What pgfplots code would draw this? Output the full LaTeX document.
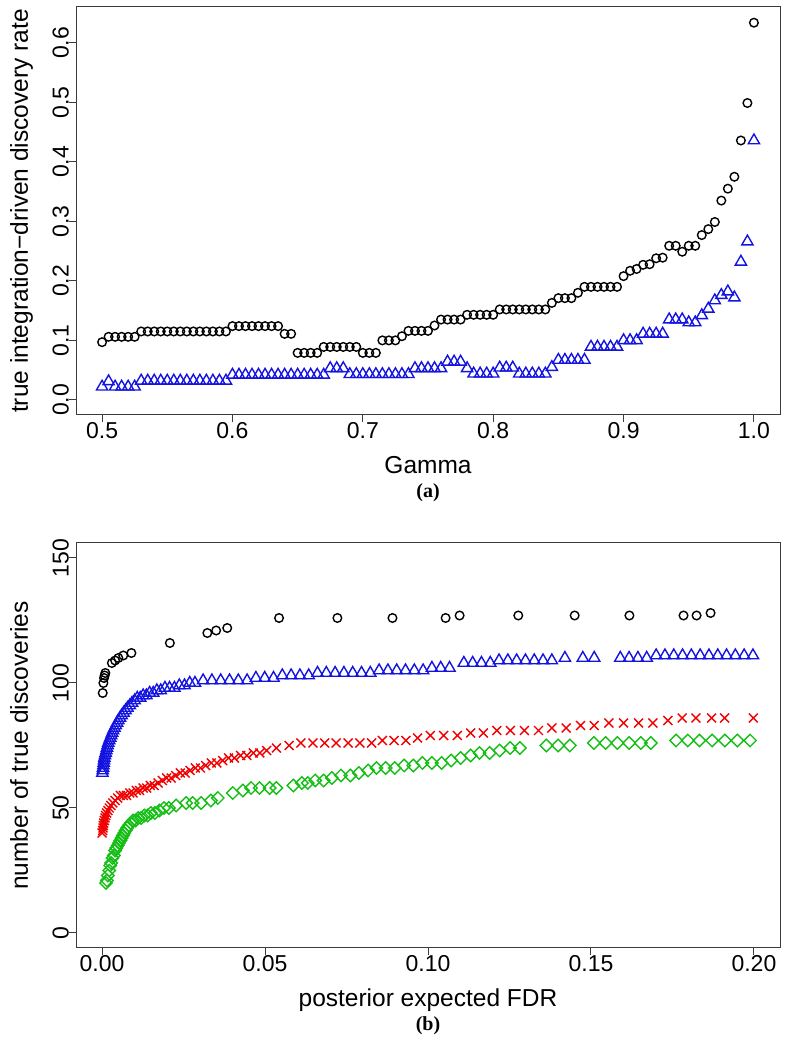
\documentclass[border=0pt]{standalone}
\usepackage{pgfplots}
\pgfplotsset{compat=1.18}
\usepackage{fontspec}
\setmainfont{Liberation Sans}
\newfontfamily\serifbf{Liberation Serif}
\definecolor{rblue}{RGB}{20,20,225}
\definecolor{rred}{RGB}{240,0,0}
\definecolor{rgreen}{RGB}{20,190,20}
\definecolor{boxgray}{RGB}{60,60,60}
\pgfplotsset{
  rstyle/.style={
    scale only axis, width=704pt,
    axis line style={boxgray, line width=1pt},
    tick style={boxgray, line width=1pt},
    tick align=outside, major tick length=7pt,
    tick pos=left,
    ticklabel style={font=\fontsize{23}{27}\selectfont},
    /pgf/number format/assume math mode=true,
    xticklabel style={anchor=north, inner sep=0pt},
    yticklabel style={rotate=90, anchor=south, inner sep=0pt},
    every axis x label/.style={at={(axis description cs:0.5,0)}, anchor=base, yshift=-59pt, font=\fontsize{24.5}{29}\selectfont},
    every axis y label/.style={at={(axis description cs:0,0.5)}, xshift=-48pt, rotate=90, anchor=base, font=\fontsize{24.5}{29}\selectfont},
    clip=false, only marks,
  },
  rcirc/.style={mark=o, mark size=4.3pt, black, mark options={line width=1.4pt}},
  rtri/.style={mark=triangle, mark size=6.5pt, rblue, mark options={line width=1.4pt}},
  rcross/.style={mark=x, mark size=6.3pt, rred, mark options={line width=1.4pt}},
  rdiam/.style={mark=square, mark size=4.4pt, rgreen, mark options={rotate=45, line width=1.4pt}},
}
\begin{document}
\begin{tikzpicture}
\useasboundingbox (0,0) rectangle (790pt,1048pt);
\begin{axis}[rstyle, at={(76pt,633pt)}, anchor=south west, height=408pt,
  xmin=0.48, xmax=1.02, ymin=-0.0254, ymax=0.6604,
  xtick={0.5,0.6,0.7,0.8,0.9,1.0}, ytick={0,0.1,0.2,0.3,0.4,0.5,0.6},
  xticklabel style={/pgf/number format/.cd, fixed, fixed zerofill, precision=1},
  yticklabel style={/pgf/number format/.cd, fixed, fixed zerofill, precision=1},
  xlabel={Gamma}, ylabel={true integration−driven discovery rate}]
\addplot[rcirc] table {
0.500 0.097
0.505 0.106
0.510 0.106
0.515 0.106
0.520 0.106
0.525 0.106
0.530 0.115
0.535 0.115
0.540 0.115
0.545 0.115
0.550 0.115
0.555 0.115
0.560 0.115
0.565 0.115
0.570 0.115
0.575 0.115
0.580 0.115
0.585 0.115
0.590 0.115
0.595 0.115
0.600 0.124
0.605 0.124
0.610 0.124
0.615 0.124
0.620 0.124
0.625 0.124
0.630 0.124
0.635 0.124
0.640 0.111
0.645 0.111
0.650 0.079
0.655 0.079
0.660 0.079
0.665 0.079
0.670 0.089
0.675 0.089
0.680 0.089
0.685 0.089
0.690 0.089
0.695 0.089
0.700 0.079
0.705 0.079
0.710 0.079
0.715 0.100
0.720 0.100
0.725 0.100
0.730 0.107
0.735 0.116
0.740 0.116
0.745 0.116
0.750 0.116
0.755 0.125
0.760 0.135
0.765 0.135
0.770 0.135
0.775 0.135
0.780 0.143
0.785 0.143
0.790 0.143
0.795 0.143
0.800 0.143
0.805 0.152
0.810 0.152
0.815 0.152
0.820 0.152
0.825 0.152
0.830 0.152
0.835 0.152
0.840 0.152
0.845 0.163
0.850 0.171
0.855 0.171
0.860 0.171
0.865 0.180
0.870 0.190
0.875 0.190
0.880 0.190
0.885 0.190
0.890 0.190
0.895 0.190
0.900 0.208
0.905 0.217
0.910 0.220
0.915 0.227
0.920 0.228
0.925 0.238
0.930 0.239
0.935 0.259
0.940 0.259
0.945 0.249
0.950 0.259
0.955 0.259
0.960 0.277
0.965 0.287
0.970 0.299
0.975 0.335
0.980 0.355
0.985 0.375
0.990 0.436
0.995 0.499
1.000 0.634
};
\addplot[rtri] table {
0.500 0.022
0.505 0.031
0.510 0.022
0.515 0.022
0.520 0.022
0.525 0.022
0.530 0.032
0.535 0.032
0.540 0.032
0.545 0.032
0.550 0.032
0.555 0.032
0.560 0.032
0.565 0.032
0.570 0.032
0.575 0.032
0.580 0.032
0.585 0.032
0.590 0.032
0.595 0.032
0.600 0.042
0.605 0.042
0.610 0.042
0.615 0.042
0.620 0.042
0.625 0.042
0.630 0.042
0.635 0.042
0.640 0.042
0.645 0.042
0.650 0.042
0.655 0.042
0.660 0.042
0.665 0.042
0.670 0.042
0.675 0.053
0.680 0.053
0.685 0.053
0.690 0.043
0.695 0.043
0.700 0.043
0.705 0.043
0.710 0.043
0.715 0.043
0.720 0.043
0.725 0.043
0.730 0.043
0.735 0.043
0.740 0.053
0.745 0.053
0.750 0.053
0.755 0.053
0.760 0.053
0.765 0.064
0.770 0.064
0.775 0.064
0.780 0.053
0.785 0.044
0.790 0.044
0.795 0.044
0.800 0.044
0.805 0.054
0.810 0.054
0.815 0.054
0.820 0.044
0.825 0.044
0.830 0.044
0.835 0.044
0.840 0.044
0.845 0.055
0.850 0.067
0.855 0.067
0.860 0.067
0.865 0.067
0.870 0.067
0.875 0.089
0.880 0.089
0.885 0.089
0.890 0.089
0.895 0.089
0.900 0.100
0.905 0.100
0.910 0.100
0.915 0.111
0.920 0.111
0.925 0.111
0.930 0.111
0.935 0.135
0.940 0.135
0.945 0.135
0.950 0.130
0.955 0.130
0.960 0.142
0.965 0.153
0.970 0.167
0.975 0.176
0.980 0.182
0.985 0.172
0.990 0.232
0.995 0.266
1.000 0.436
};
\node[font=\serifbf\bfseries\fontsize{20}{24}\selectfont, anchor=base, yshift=-82.6pt] at (axis description cs:0.5,0) {(a)};
\end{axis}

\begin{axis}[rstyle, at={(76pt,100pt)}, anchor=south west, height=405pt,
  xmin=-0.008, xmax=0.208, ymin=-6, ymax=156,
  xtick={0,0.05,0.1,0.15,0.2}, ytick={0,50,100,150},
  xticklabel style={/pgf/number format/.cd, fixed, fixed zerofill, precision=2},
  xlabel={posterior expected FDR}, ylabel={number of true discoveries}]
\addplot[rcirc] table {
0.0002 96
0.0004 100
0.0006 102
0.0008 103
0.0010 104
0.0030 108
0.0040 109
0.0050 110
0.0065 111
0.0090 112
0.0208 116
0.0323 120
0.0350 121
0.0384 122
0.0543 126
0.0722 126
0.0891 126
0.1054 126
0.1097 127
0.1277 127
0.1450 127
0.1618 127
0.1784 127
0.1824 127
0.1867 128
};
\addplot[rtri] table {
0.0001 64
0.0002 65
0.0003 66
0.0004 67
0.0005 68
0.0006 69
0.0007 70
0.0009 71
0.0011 72
0.0013 73
0.0015 74
0.0017 75
0.0019 76
0.0022 77
0.0025 78
0.0028 79
0.0031 80
0.0034 81
0.0038 82
0.0042 83
0.0046 84
0.0050 85
0.0055 86
0.0060 87
0.0066 88
0.0072 89
0.0078 90
0.0085 91
0.0092 92
0.0100 93
0.0108 94
0.0117 94
0.0126 95
0.0136 95
0.0146 96
0.0157 96
0.0168 97
0.0180 97
0.0193 98
0.0207 98
0.0222 98
0.0237 99
0.0253 99
0.0269 100
0.0285 100
0.0310 101
0.0337 101
0.0364 101
0.0391 101
0.0418 101
0.0445 101
0.0472 102
0.0499 102
0.0526 102
0.0553 103
0.0580 103
0.0607 103
0.0634 103
0.0661 104
0.0688 104
0.0715 104
0.0742 104
0.0769 104
0.0796 104
0.0823 104
0.0850 105
0.0877 105
0.0904 105
0.0931 105
0.0958 105
0.0985 105
0.1012 106
0.1039 106
0.1066 106
0.1110 108
0.1137 108
0.1164 108
0.1191 108
0.1218 109
0.1245 109
0.1272 109
0.1299 109
0.1326 109
0.1353 109
0.1380 109
0.1420 110
0.1475 110
0.1510 110
0.1590 110
0.1617 110
0.1644 110
0.1671 110
0.1700 111
0.1727 111
0.1754 111
0.1781 111
0.1808 111
0.1835 111
0.1862 111
0.1889 111
0.1916 111
0.1943 111
0.1970 111
0.1997 111
};
\addplot[rcross] table {
0.0000 40
0.0002 41
0.0003 42
0.0004 43
0.0005 44
0.0007 45
0.0009 46
0.0011 47
0.0014 48
0.0018 49
0.0022 50
0.0027 51
0.0033 52
0.0040 53
0.0048 54
0.0056 55
0.0065 55
0.0075 55
0.0085 56
0.0095 56
0.0105 57
0.0115 57
0.0126 58
0.0137 58
0.0148 59
0.0160 59
0.0172 60
0.0185 61
0.0198 62
0.0212 62
0.0226 63
0.0240 64
0.0255 64
0.0270 65
0.0286 66
0.0302 66
0.0318 67
0.0335 68
0.0352 68
0.0370 69
0.0388 70
0.0406 70
0.0425 71
0.0444 71
0.0464 72
0.0484 72
0.0505 73
0.0535 74
0.0574 75
0.0610 76
0.0647 76
0.0683 76
0.0718 76
0.0755 76
0.0791 76
0.0827 76
0.0860 77
0.0896 77
0.0932 77
0.0968 78
0.1007 79
0.1048 79
0.1090 79
0.1131 80
0.1170 80
0.1211 81
0.1253 81
0.1296 81
0.1339 81
0.1380 82
0.1424 82
0.1468 83
0.1510 83
0.1555 84
0.1600 84
0.1646 84
0.1690 84
0.1736 85
0.1780 86
0.1822 86
0.1870 86
0.1910 86
0.1998 86
};
\addplot[rdiam] table {
0.0012 20
0.0015 21
0.0018 23
0.0022 25
0.0025 27
0.0028 28
0.0032 30
0.0036 31
0.0040 33
0.0044 34
0.0048 35
0.0052 36
0.0056 37
0.0060 38
0.0064 39
0.0068 40
0.0072 41
0.0077 42
0.0082 43
0.0088 44
0.0095 45
0.0103 45
0.0111 46
0.0120 46
0.0130 47
0.0140 47
0.0150 48
0.0162 48
0.0176 49
0.0190 50
0.0205 50
0.0227 51
0.0258 52
0.0278 52
0.0304 52
0.0334 53
0.0355 54
0.0401 56
0.0432 57
0.0457 58
0.0483 58
0.0514 58
0.0535 58
0.0587 59
0.0613 60
0.0631 60
0.0654 61
0.0680 61
0.0705 62
0.0733 63
0.0762 63
0.0788 64
0.0816 65
0.0842 66
0.0870 66
0.0898 66
0.0927 67
0.0955 67
0.0983 68
0.1012 68
0.1042 68
0.1071 69
0.1100 70
0.1131 71
0.1158 72
0.1189 72
0.1220 73
0.1252 74
0.1282 74
0.1363 75
0.1399 75
0.1435 75
0.1509 76
0.1545 76
0.1581 76
0.1617 76
0.1653 76
0.1684 76
0.1761 77
0.1797 77
0.1833 77
0.1872 77
0.1911 77
0.1949 77
0.1988 77
};
\node[font=\serifbf\bfseries\fontsize{20}{24}\selectfont, anchor=base, yshift=-82.6pt] at (axis description cs:0.5,0) {(b)};
\end{axis}
\end{tikzpicture}
\end{document}
